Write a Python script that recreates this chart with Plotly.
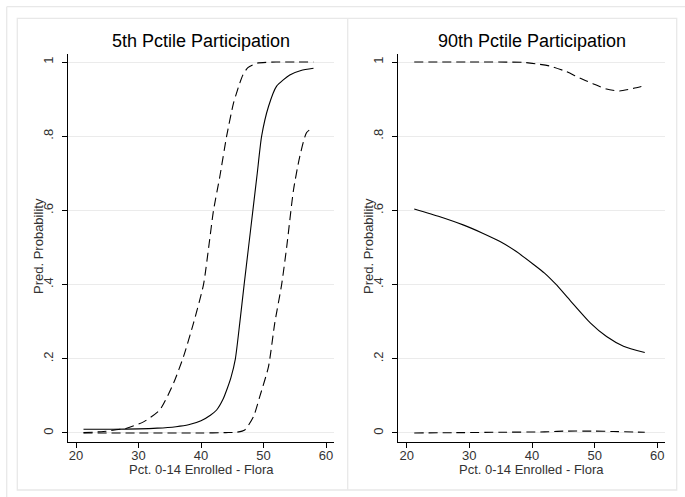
import plotly.graph_objects as go

# ---------------- data ----------------
# Left panel: 5th percentile participation
left_solid_x = [21.2, 26, 30, 33, 36, 38, 40, 41.5, 42.5, 43.5, 44.2, 44.8, 45.5, 46.2, 46.9,
                47.6, 48.3, 49.0, 49.7, 50.8, 52.1, 54.2, 56.0, 58.0]
left_solid_y = [0.010, 0.010, 0.011, 0.013, 0.017, 0.022, 0.033, 0.048, 0.062, 0.090, 0.120,
                0.150, 0.200, 0.296, 0.400, 0.500, 0.600, 0.700, 0.800, 0.880, 0.935, 0.965,
                0.977, 0.983]

left_upper_x = [21.2, 24.4, 28.1, 30.8, 33.4, 35.6, 37.2, 38.8, 40.4, 41.3, 42.0, 43.0, 44.1,
                45.2, 46.2, 46.7, 47.5, 49.0, 52.0, 55.0, 58.0]
left_upper_y = [0.001, 0.004, 0.013, 0.030, 0.062, 0.134, 0.206, 0.296, 0.400, 0.510, 0.600,
                0.690, 0.800, 0.889, 0.943, 0.965, 0.985, 0.997, 1.000, 1.000, 1.000]

left_lower_x = [21.2, 30, 40, 44, 45.7, 47.0, 48.4, 49.4, 50.8, 51.8, 52.9, 53.7, 54.8, 55.8,
                56.9, 58.0]
left_lower_y = [0.000, 0.000, 0.000, 0.001, 0.002, 0.008, 0.044, 0.098, 0.179, 0.296, 0.400,
                0.500, 0.655, 0.745, 0.810, 0.824]

# Right panel: 90th percentile participation
right_solid_x = [21.2, 25.3, 29.0, 32.2, 34.9, 37.5, 40.2, 42.0, 43.8, 46.1, 49.3, 51.9, 54.6, 58.0]
right_solid_y = [0.604, 0.583, 0.561, 0.538, 0.516, 0.489, 0.455, 0.431, 0.401, 0.357, 0.297,
                 0.260, 0.234, 0.217]

right_upper_x = [21.2, 30, 38.6, 40.7, 42.9, 45.5, 47.7, 49.8, 51.9, 54.0, 56.2, 58.0]
right_upper_y = [1.000, 1.000, 0.999, 0.995, 0.989, 0.974, 0.956, 0.941, 0.927, 0.922, 0.929,
                 0.936]

right_lower_x = [21.2, 29, 35, 42, 45, 50, 53, 58]
right_lower_y = [0.000, 0.001, 0.002, 0.003, 0.005, 0.005, 0.004, 0.002]

titles = ["5th Pctile Participation", "90th Pctile Participation"]
x_title = "Pct. 0-14 Enrolled - Flora"
y_title = "Pred. Probability"
x_tickvals = [20, 30, 40, 50, 60]
y_tickvals = [0, 0.2, 0.4, 0.6, 0.8, 1]
y_ticktext = ["0", ".2", ".4", ".6", ".8", "1"]

# ---------------- figure ----------------
W, H = 685, 497
ML, MR, MT, MB = 68, 20, 54, 55
PW, PH = W - ML - MR, H - MT - MB
FONT = "Liberation Sans, Arial, sans-serif"


def px_x(p):
    return (p - ML) / PW


def px_y(p):
    return (H - MB - p) / PH


fig = go.Figure()
dash = "9px,5px"
line_solid = dict(color="black", width=1.1, shape="spline", smoothing=0.6)
line_dash = dict(color="black", width=1.1, dash=dash, shape="spline", smoothing=0.6)

panels = [
    ("x", "y", left_solid_x, left_solid_y, left_upper_x, left_upper_y, left_lower_x, left_lower_y),
    ("x2", "y2", right_solid_x, right_solid_y, right_upper_x, right_upper_y, right_lower_x, right_lower_y),
]
for xa, ya, sx, sy, ux, uy, lx, ly in panels:
    fig.add_trace(go.Scatter(x=ux, y=uy, mode="lines", line=line_dash, xaxis=xa, yaxis=ya,
                             showlegend=False, hoverinfo="skip"))
    fig.add_trace(go.Scatter(x=lx, y=ly, mode="lines", line=line_dash, xaxis=xa, yaxis=ya,
                             showlegend=False, hoverinfo="skip"))
    fig.add_trace(go.Scatter(x=sx, y=sy, mode="lines", line=line_solid, xaxis=xa, yaxis=ya,
                             showlegend=False, hoverinfo="skip"))

tick_font = dict(family=FONT, size=13, color="#333333")
common_x = dict(
    tickvals=x_tickvals, ticks="outside", ticklen=5, tickcolor="black", tickwidth=1,
    showline=True, linecolor="black", linewidth=1, showgrid=False, zeroline=False,
    tickfont=tick_font, ticklabelstandoff=-4,
)
common_y = dict(
    tickvals=y_tickvals, ticktext=y_ticktext, tickangle=-90, ticks="outside", ticklen=5,
    tickcolor="black", tickwidth=1, showline=True, linecolor="black", linewidth=1,
    showgrid=True, gridcolor="#ebebeb", gridwidth=1, zeroline=False, range=[-0.0243, 1.0216],
    tickfont=tick_font, ticklabelstandoff=4,
)

fig.update_layout(
    width=W, height=H,
    margin=dict(l=ML, r=MR, t=MT, b=MB, pad=0),
    paper_bgcolor="white", plot_bgcolor="white",
    showlegend=False,
    xaxis=dict(domain=[0, px_x(334)], range=[18.72, 61.28], anchor="y", **common_x),
    yaxis=dict(domain=[0, 1], anchor="x", **common_y),
    xaxis2=dict(domain=[px_x(398), 1], range=[18.61, 61.23], anchor="y2", **common_x),
    yaxis2=dict(domain=[0, 1], anchor="x2", **common_y),
)

# subplot titles and axis titles
title_font = dict(family=FONT, size=18, color="black")
axis_font = dict(family=FONT, size=13, color="#333333")
for cx, ylab_x, t in [((68 + 334) / 2, 38, titles[0]), ((398 + 665) / 2, 368, titles[1])]:
    fig.add_annotation(text=t, x=px_x(cx), y=px_y(41), xref="paper", yref="paper",
                       xanchor="center", yanchor="middle", showarrow=False, font=title_font)
    fig.add_annotation(text=x_title, x=px_x(cx), y=px_y(469), xref="paper", yref="paper",
                       xanchor="center", yanchor="middle", showarrow=False, font=axis_font)
    fig.add_annotation(text=y_title, x=px_x(ylab_x), y=px_y(246), xref="paper", yref="paper",
                       xanchor="center", yanchor="middle", showarrow=False, textangle=-90,
                       font=axis_font)

# graph frames (Stata-style borders)
frame = dict(color="#e8e8e8", width=1.3)
shapes = [
    dict(type="line", x0=px_x(6.7), x1=px_x(W + 5), y0=px_y(6.7), y1=px_y(6.7)),
    dict(type="line", x0=px_x(6.7), x1=px_x(6.7), y0=px_y(6.7), y1=px_y(H + 5)),
    dict(type="rect", x0=px_x(17.3), x1=px_x(676.7), y0=px_y(18.3), y1=px_y(490)),
    dict(type="line", x0=px_x(347.7), x1=px_x(347.7), y0=px_y(18.3), y1=px_y(490)),
]
for s in shapes:
    fig.add_shape(xref="paper", yref="paper", line=frame, layer="below", **s)

fig.write_html("out.html", config={"displayModeBar": False},
               post_script="document.body.style.margin='0px';")
